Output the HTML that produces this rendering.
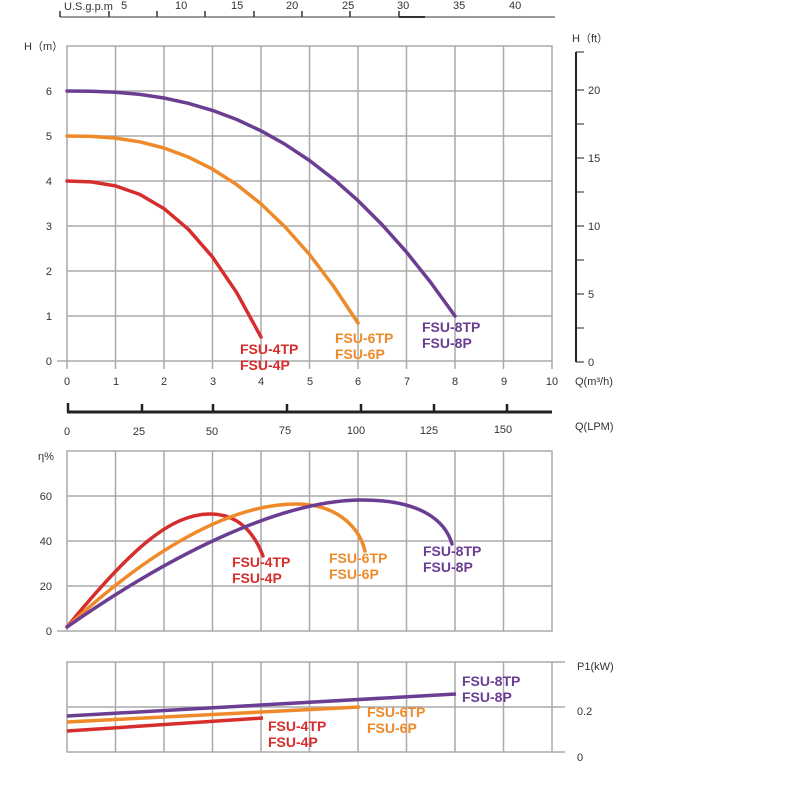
<!DOCTYPE html>
<html><head><meta charset="utf-8"><style>
body{margin:0;background:#fff}
svg{display:block;font-family:"Liberation Sans",sans-serif}
.g{stroke:#aaa;stroke-width:1.5;fill:none}
.t{font-size:11px;fill:#333}
.b{font-size:14px;font-weight:bold}
.r{fill:#d62d2d}.o{fill:#ef8a2a}.p{fill:#6b3d93}
</style></head><body>
<svg width="800" height="800" viewBox="0 0 800 800">
<!-- USgpm axis -->
<line x1="60" y1="17" x2="555" y2="17" stroke="#333" stroke-width="1"/>
<line x1="399" y1="17" x2="425" y2="17" stroke="#333" stroke-width="2"/>
<g stroke="#333" stroke-width="1.5">
<line x1="60" y1="11" x2="60" y2="17"/><line x1="109" y1="11" x2="109" y2="17"/><line x1="157" y1="11" x2="157" y2="17"/><line x1="205" y1="11" x2="205" y2="17"/><line x1="254" y1="11" x2="254" y2="17"/><line x1="302" y1="11" x2="302" y2="17"/><line x1="350" y1="11" x2="350" y2="17"/><line x1="399" y1="11" x2="399" y2="17"/>
</g>
<g class="t"><text x="64" y="10">U.S.g.p.m</text><text x="121" y="9">5</text><text x="175" y="9">10</text><text x="231" y="9">15</text><text x="286" y="9">20</text><text x="342" y="9">25</text><text x="397" y="9">30</text><text x="453" y="9">35</text><text x="509" y="9">40</text></g>
<!-- H chart grid -->
<g class="g">
<rect x="67" y="46" width="485" height="315"/>
<path d="M67,91H552M67,136H552M67,181H552M67,226H552M67,271H552M67,316H552M57,361H67"/>
<path d="M115.5,46V369M164,46V369M212.5,46V369M261,46V369M309.5,46V369M358,46V369M406.5,46V369M455,46V369M503.5,46V369M67,361V369M552,361V369"/>
</g>
<g class="t" text-anchor="end"><text x="52" y="365">0</text><text x="52" y="320">1</text><text x="52" y="275">2</text><text x="52" y="230">3</text><text x="52" y="185">4</text><text x="52" y="140">5</text><text x="52" y="95">6</text></g>
<text class="t" x="24" y="50">H（m）</text>
<g class="t" text-anchor="middle"><text x="67" y="385">0</text><text x="116" y="385">1</text><text x="164" y="385">2</text><text x="213" y="385">3</text><text x="261" y="385">4</text><text x="310" y="385">5</text><text x="358" y="385">6</text><text x="407" y="385">7</text><text x="455" y="385">8</text><text x="504" y="385">9</text><text x="552" y="385">10</text></g>
<text class="t" x="575" y="385">Q(m³/h)</text>
<!-- ft axis -->
<line x1="576" y1="52" x2="576" y2="362" stroke="#222" stroke-width="2"/>
<g stroke="#222" stroke-width="1"><path d="M576,52h8M576,90h8M576,124h8M576,158h8M576,192h8M576,226h8M576,260h8M576,294h8M576,328h8M576,362h8"/></g>
<text class="t" x="572" y="42">H（ft）</text>
<g class="t"><text x="588" y="94">20</text><text x="588" y="162">15</text><text x="588" y="230">10</text><text x="588" y="298">5</text><text x="588" y="366">0</text></g>
<!-- H curves -->
<g fill="none" stroke-width="3.5" stroke-linecap="round" stroke-linejoin="round">
<polyline stroke="#6b3d93" points="67,91 91.25,91.2 115.5,92.2 139.75,94.4 164,98 188.25,103.3 212.5,110.4 236.75,119.5 261,130.8 285.25,144.4 309.5,160.5 333.75,179.2 358,200.6 382.25,224.9 406.5,252.1 430.75,282.5 455,316"/>
<polyline stroke="#ef8a2a" points="67,136 91.25,136.4 115.5,138.1 139.75,141.8 164,148 188.25,157 212.5,169.1 236.75,184.6 261,203.9 285.25,227.1 309.5,254.5 333.75,286.5 358,323"/>
<polyline stroke="#d62d2d" points="67,181 91.25,181.9 115.5,185.9 139.75,194.4 164,208.6 188.25,229.2 212.5,257 236.75,292.7 261,337"/>
</g>
<g class="b"><text class="r" x="240" y="354">FSU-4TP</text><text class="r" x="240" y="370">FSU-4P</text>
<text class="o" x="335" y="343">FSU-6TP</text><text class="o" x="335" y="359">FSU-6P</text>
<text class="p" x="422" y="332">FSU-8TP</text><text class="p" x="422" y="348">FSU-8P</text></g>
<!-- LPM axis -->
<line x1="67" y1="412" x2="552" y2="412" stroke="#222" stroke-width="3"/>
<g stroke="#222" stroke-width="2.5"><path d="M68,403V412M142,404V412M213,404V412M287,404V412M361,404V412M434,404V412M507,404V412"/></g>
<g class="t" text-anchor="middle"><text x="67" y="435">0</text><text x="139" y="435">25</text><text x="212" y="435">50</text><text x="285" y="434">75</text><text x="356" y="434">100</text><text x="429" y="434">125</text><text x="503" y="433">150</text></g>
<text class="t" x="575" y="430">Q(LPM)</text>
<!-- eff chart -->
<g class="g">
<rect x="67" y="451" width="485" height="180"/>
<path d="M67,496H552M67,541H552M67,586H552M57,631H67"/>
<path d="M115.5,451V631M164,451V631M212.5,451V631M261,451V631M309.5,451V631M358,451V631M406.5,451V631M455,451V631M503.5,451V631"/>
</g>
<text class="t" x="38" y="460">η%</text>
<g class="t" text-anchor="end"><text x="52" y="635">0</text><text x="52" y="590">20</text><text x="52" y="545">40</text><text x="52" y="500">60</text></g>
<g fill="none" stroke-width="3.5" stroke-linecap="round">
<path stroke="#d62d2d" d="M67,627 C130,550 170,514 210,514 C240,514 255,535 263,556"/>
<path stroke="#ef8a2a" d="M67,627 C150,550 230,504 296,504 C340,504 360,530 365,551"/>
<path stroke="#6b3d93" d="M67,627 C170,555 280,500 362,500 C420,500 445,520 452,544"/>
</g>
<g class="b"><text class="r" x="232" y="567">FSU-4TP</text><text class="r" x="232" y="583">FSU-4P</text>
<text class="o" x="329" y="563">FSU-6TP</text><text class="o" x="329" y="579">FSU-6P</text>
<text class="p" x="423" y="556">FSU-8TP</text><text class="p" x="423" y="572">FSU-8P</text></g>
<!-- power chart -->
<g class="g">
<rect x="67" y="662" width="485" height="90"/>
<path d="M67,707H565M552,752H565M552,662H565"/>
<path d="M115.5,662V752M164,662V752M212.5,662V752M261,662V752M309.5,662V752M358,662V752M406.5,662V752M455,662V752M503.5,662V752"/>
</g>
<g class="t"><text x="577" y="670">P1(kW)</text><text x="577" y="715">0.2</text><text x="577" y="761">0</text></g>
<g fill="none" stroke-width="3.5">
<line stroke="#6b3d93" x1="67" y1="716" x2="456" y2="694"/>
<line stroke="#ef8a2a" x1="67" y1="722" x2="360" y2="707"/>
<line stroke="#d62d2d" x1="67" y1="731" x2="263" y2="718"/>
</g>
<g class="b"><text class="r" x="268" y="731">FSU-4TP</text><text class="r" x="268" y="747">FSU-4P</text>
<text class="o" x="367" y="717">FSU-6TP</text><text class="o" x="367" y="733">FSU-6P</text>
<text class="p" x="462" y="686">FSU-8TP</text><text class="p" x="462" y="702">FSU-8P</text></g>
</svg>
</body></html>
